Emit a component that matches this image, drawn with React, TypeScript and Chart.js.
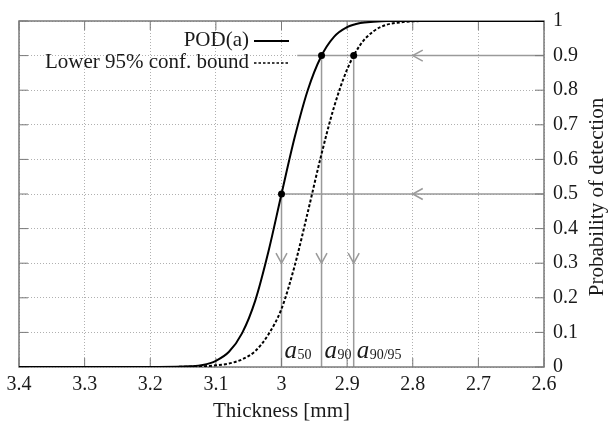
import { useEffect, useRef } from "react";
import { Chart, registerables } from "chart.js";
Chart.register(...registerables);

// Thickness values (mm) and probability of detection
const podThickness = [3.4, 3.2, 3.16, 3.14, 3.12, 3.1, 3.08, 3.06, 3.04, 3.02, 3.0, 2.98, 2.96, 2.94, 2.92, 2.9, 2.88, 2.86, 2.84, 2.6];
const podValues = [0, 0, 0.0004, 0.002, 0.006, 0.018, 0.044, 0.098, 0.192, 0.333, 0.5, 0.663, 0.8, 0.896, 0.954, 0.982, 0.994, 0.998, 1, 1];

const lowerThickness = [3.4, 3.18, 3.14, 3.12, 3.1, 3.08, 3.06, 3.04, 3.02, 3.0, 2.98, 2.96, 2.94, 2.92, 2.9, 2.88, 2.86, 2.84, 2.82, 2.8, 2.78, 2.6];
const lowerValues = [0, 0, 0.001, 0.002, 0.005, 0.01, 0.022, 0.046, 0.094, 0.168, 0.292, 0.447, 0.608, 0.751, 0.86, 0.931, 0.97, 0.989, 0.996, 0.999, 1, 1];

// Characteristic points: a50, a90, a90/95
const markerNames = ["50", "90", "90/95"];
const markerThickness = [3.0, 2.939, 2.89];
const markerProb = [0.5, 0.9, 0.9];
const horizontalStart = [3.0, 2.976]; // left ends of horizontal guide lines at 0.5 and 0.9
const horizontalProb = [0.5, 0.9];
const arrowX = 2.8;
const arrowY = 0.3;

const xTickValues = [3.4, 3.3, 3.2, 3.1, 3.0, 2.9, 2.8, 2.7, 2.6];
const xTickLabels = ["3.4", "3.3", "3.2", "3.1", "3", "2.9", "2.8", "2.7", "2.6"];
const yTickValues = [0, 0.1, 0.2, 0.3, 0.4, 0.5, 0.6, 0.7, 0.8, 0.9, 1];
const yTickLabels = ["0", "0.1", "0.2", "0.3", "0.4", "0.5", "0.6", "0.7", "0.8", "0.9", "1"];

const legendLabels = ["POD(a)", "Lower 95% conf. bound"];
const xTitle = "Thickness [mm]";
const yTitle = "Probability of detection";

const FONT = "'Liberation Serif', 'Times New Roman', serif";
const GREY = "#9a9a9a";
const FRAME = "#7a7a7a";

export default function App() {
  const ref = useRef<HTMLCanvasElement | null>(null);

  useEffect(() => {
    document.body.style.margin = "0";
    const canvas = ref.current;
    if (!canvas) return;

    const decor = {
      id: "decor",
      beforeDatasetsDraw(chart: any) {
        const { ctx, chartArea: a } = chart;
        const xs = chart.scales.x;
        const ys = chart.scales.y;
        ctx.save();
        // guide lines
        ctx.strokeStyle = GREY;
        ctx.lineWidth = 1.5;
        ctx.setLineDash([]);
        horizontalProb.forEach((p, i) => {
          const y = ys.getPixelForValue(p);
          ctx.beginPath();
          ctx.moveTo(xs.getPixelForValue(horizontalStart[i]), y);
          ctx.lineTo(a.right, y);
          ctx.stroke();
          const tx = xs.getPixelForValue(arrowX);
          ctx.beginPath();
          ctx.moveTo(tx + 10, y - 5.5);
          ctx.lineTo(tx, y);
          ctx.lineTo(tx + 10, y + 5.5);
          ctx.stroke();
        });
        markerThickness.forEach((t, i) => {
          const x = xs.getPixelForValue(t);
          ctx.beginPath();
          ctx.moveTo(x, ys.getPixelForValue(markerProb[i]));
          ctx.lineTo(x, a.bottom);
          ctx.stroke();
          const ty = ys.getPixelForValue(arrowY);
          ctx.beginPath();
          ctx.moveTo(x - 5.5, ty - 10);
          ctx.lineTo(x, ty);
          ctx.lineTo(x + 5.5, ty - 10);
          ctx.stroke();
        });
        // frame
        ctx.strokeStyle = FRAME;
        ctx.lineWidth = 1.5;
        ctx.strokeRect(a.left, a.top, a.right - a.left, a.bottom - a.top);
        // inward ticks
        ctx.lineWidth = 1;
        const tl = 9;
        xTickValues.forEach((v) => {
          const x = xs.getPixelForValue(v);
          ctx.beginPath();
          ctx.moveTo(x, a.bottom);
          ctx.lineTo(x, a.bottom - tl);
          ctx.moveTo(x, a.top);
          ctx.lineTo(x, a.top + tl);
          ctx.stroke();
        });
        yTickValues.forEach((v) => {
          const y = ys.getPixelForValue(v);
          ctx.beginPath();
          ctx.moveTo(a.left, y);
          ctx.lineTo(a.left + tl, y);
          ctx.moveTo(a.right, y);
          ctx.lineTo(a.right - tl, y);
          ctx.stroke();
        });
        ctx.restore();
      },
      afterDraw(chart: any) {
        const { ctx, chartArea: a } = chart;
        const xs = chart.scales.x;
        ctx.save();
        ctx.fillStyle = "#1a1a1a";
        // legend
        ctx.font = `21px ${FONT}`;
        ctx.textAlign = "right";
        ctx.textBaseline = "middle";
        const legendRight = 249;
        const legendY = [40, 62];
        legendLabels.forEach((lab, i) => {
          ctx.fillText(lab, legendRight, legendY[i]);
          ctx.beginPath();
          ctx.strokeStyle = "#000";
          ctx.lineWidth = i === 0 ? 2 : 1.6;
          ctx.setLineDash(i === 0 ? [] : [2.5, 2]);
          ctx.moveTo(legendRight + 5, legendY[i] + 1);
          ctx.lineTo(legendRight + 40, legendY[i] + 1);
          ctx.stroke();
        });
        ctx.setLineDash([]);
        // marker labels
        ctx.textAlign = "left";
        ctx.textBaseline = "alphabetic";
        const baseY = a.bottom - 9;
        markerThickness.forEach((t, i) => {
          const x = xs.getPixelForValue(t) + 3;
          ctx.font = `italic 25px ${FONT}`;
          ctx.fillText("a", x, baseY);
          const w = ctx.measureText("a").width;
          ctx.font = `14px ${FONT}`;
          ctx.fillText(markerNames[i], x + w + 0.5, baseY + 1);
        });
        // axis titles
        ctx.font = `21px ${FONT}`;
        ctx.textAlign = "center";
        ctx.textBaseline = "middle";
        ctx.fillText(xTitle, (a.left + a.right) / 2, 411);
        ctx.translate(597, 197);
        ctx.rotate(-Math.PI / 2);
        ctx.fillText(yTitle, 0, 0);
        ctx.restore();
      },
    };

    const chart = new Chart(canvas, {
      type: "line",
      data: {
        datasets: [
          {
            label: legendLabels[0],
            data: podThickness.map((x, i) => ({ x, y: podValues[i] })),
            borderColor: "#000",
            borderWidth: 2,
            pointRadius: 0,
            cubicInterpolationMode: "monotone",
          },
          {
            label: legendLabels[1],
            data: lowerThickness.map((x, i) => ({ x, y: lowerValues[i] })),
            borderColor: "#000",
            borderWidth: 2,
            borderDash: [3, 2],
            pointRadius: 0,
            cubicInterpolationMode: "monotone",
          },
          {
            label: "points",
            data: markerThickness.map((x, i) => ({ x, y: markerProb[i] })),
            showLine: false,
            pointRadius: 3.5,
            pointBackgroundColor: "#000",
            pointBorderColor: "#000",
            pointBorderWidth: 0,
          },
        ],
      },
      options: {
        responsive: false,
        animation: false,
        events: [],
        layout: { padding: { top: 16, left: 19, right: 0, bottom: 0 } },
        plugins: { legend: { display: false }, tooltip: { enabled: false } },
        scales: {
          x: {
            type: "linear",
            reverse: true,
            min: 2.6,
            max: 3.4,
            afterBuildTicks: (s: any) => {
              s.ticks = xTickValues.map((v) => ({ value: v }));
            },
            afterFit: (s: any) => {
              s.height = 56;
            },
            ticks: {
              autoSkip: false,
              maxRotation: 0,
              padding: 6,
              color: "#1a1a1a",
              font: { family: FONT, size: 20 },
              callback: (v: any) => {
                const i = xTickValues.findIndex((t) => Math.abs(t - Number(v)) < 1e-6);
                return i >= 0 ? xTickLabels[i] : "";
              },
            },
            grid: { color: "#b0b0b0", lineWidth: 1, drawTicks: false },
            border: { display: false, dash: [1, 2] },
          },
          y: {
            type: "linear",
            position: "right",
            min: 0,
            max: 1,
            afterBuildTicks: (s: any) => {
              s.ticks = yTickValues.map((v) => ({ value: v }));
            },
            afterFit: (s: any) => {
              s.width = 64;
            },
            ticks: {
              padding: 9,
              color: "#1a1a1a",
              font: { family: FONT, size: 20 },
              callback: (v: any) => {
                const i = yTickValues.findIndex((t) => Math.abs(t - Number(v)) < 1e-6);
                return i >= 0 ? yTickLabels[i] : "";
              },
            },
            grid: { color: "#b0b0b0", lineWidth: 1, drawTicks: false },
            border: { display: false, dash: [1, 2] },
          },
        },
      },
      plugins: [decor],
    });
    return () => chart.destroy();
  }, []);

  return (
    <div style={{ width: 608, height: 423, background: "#fff" }}>
      <canvas ref={ref} width={608} height={423} style={{ display: "block" }} />
    </div>
  );
}
